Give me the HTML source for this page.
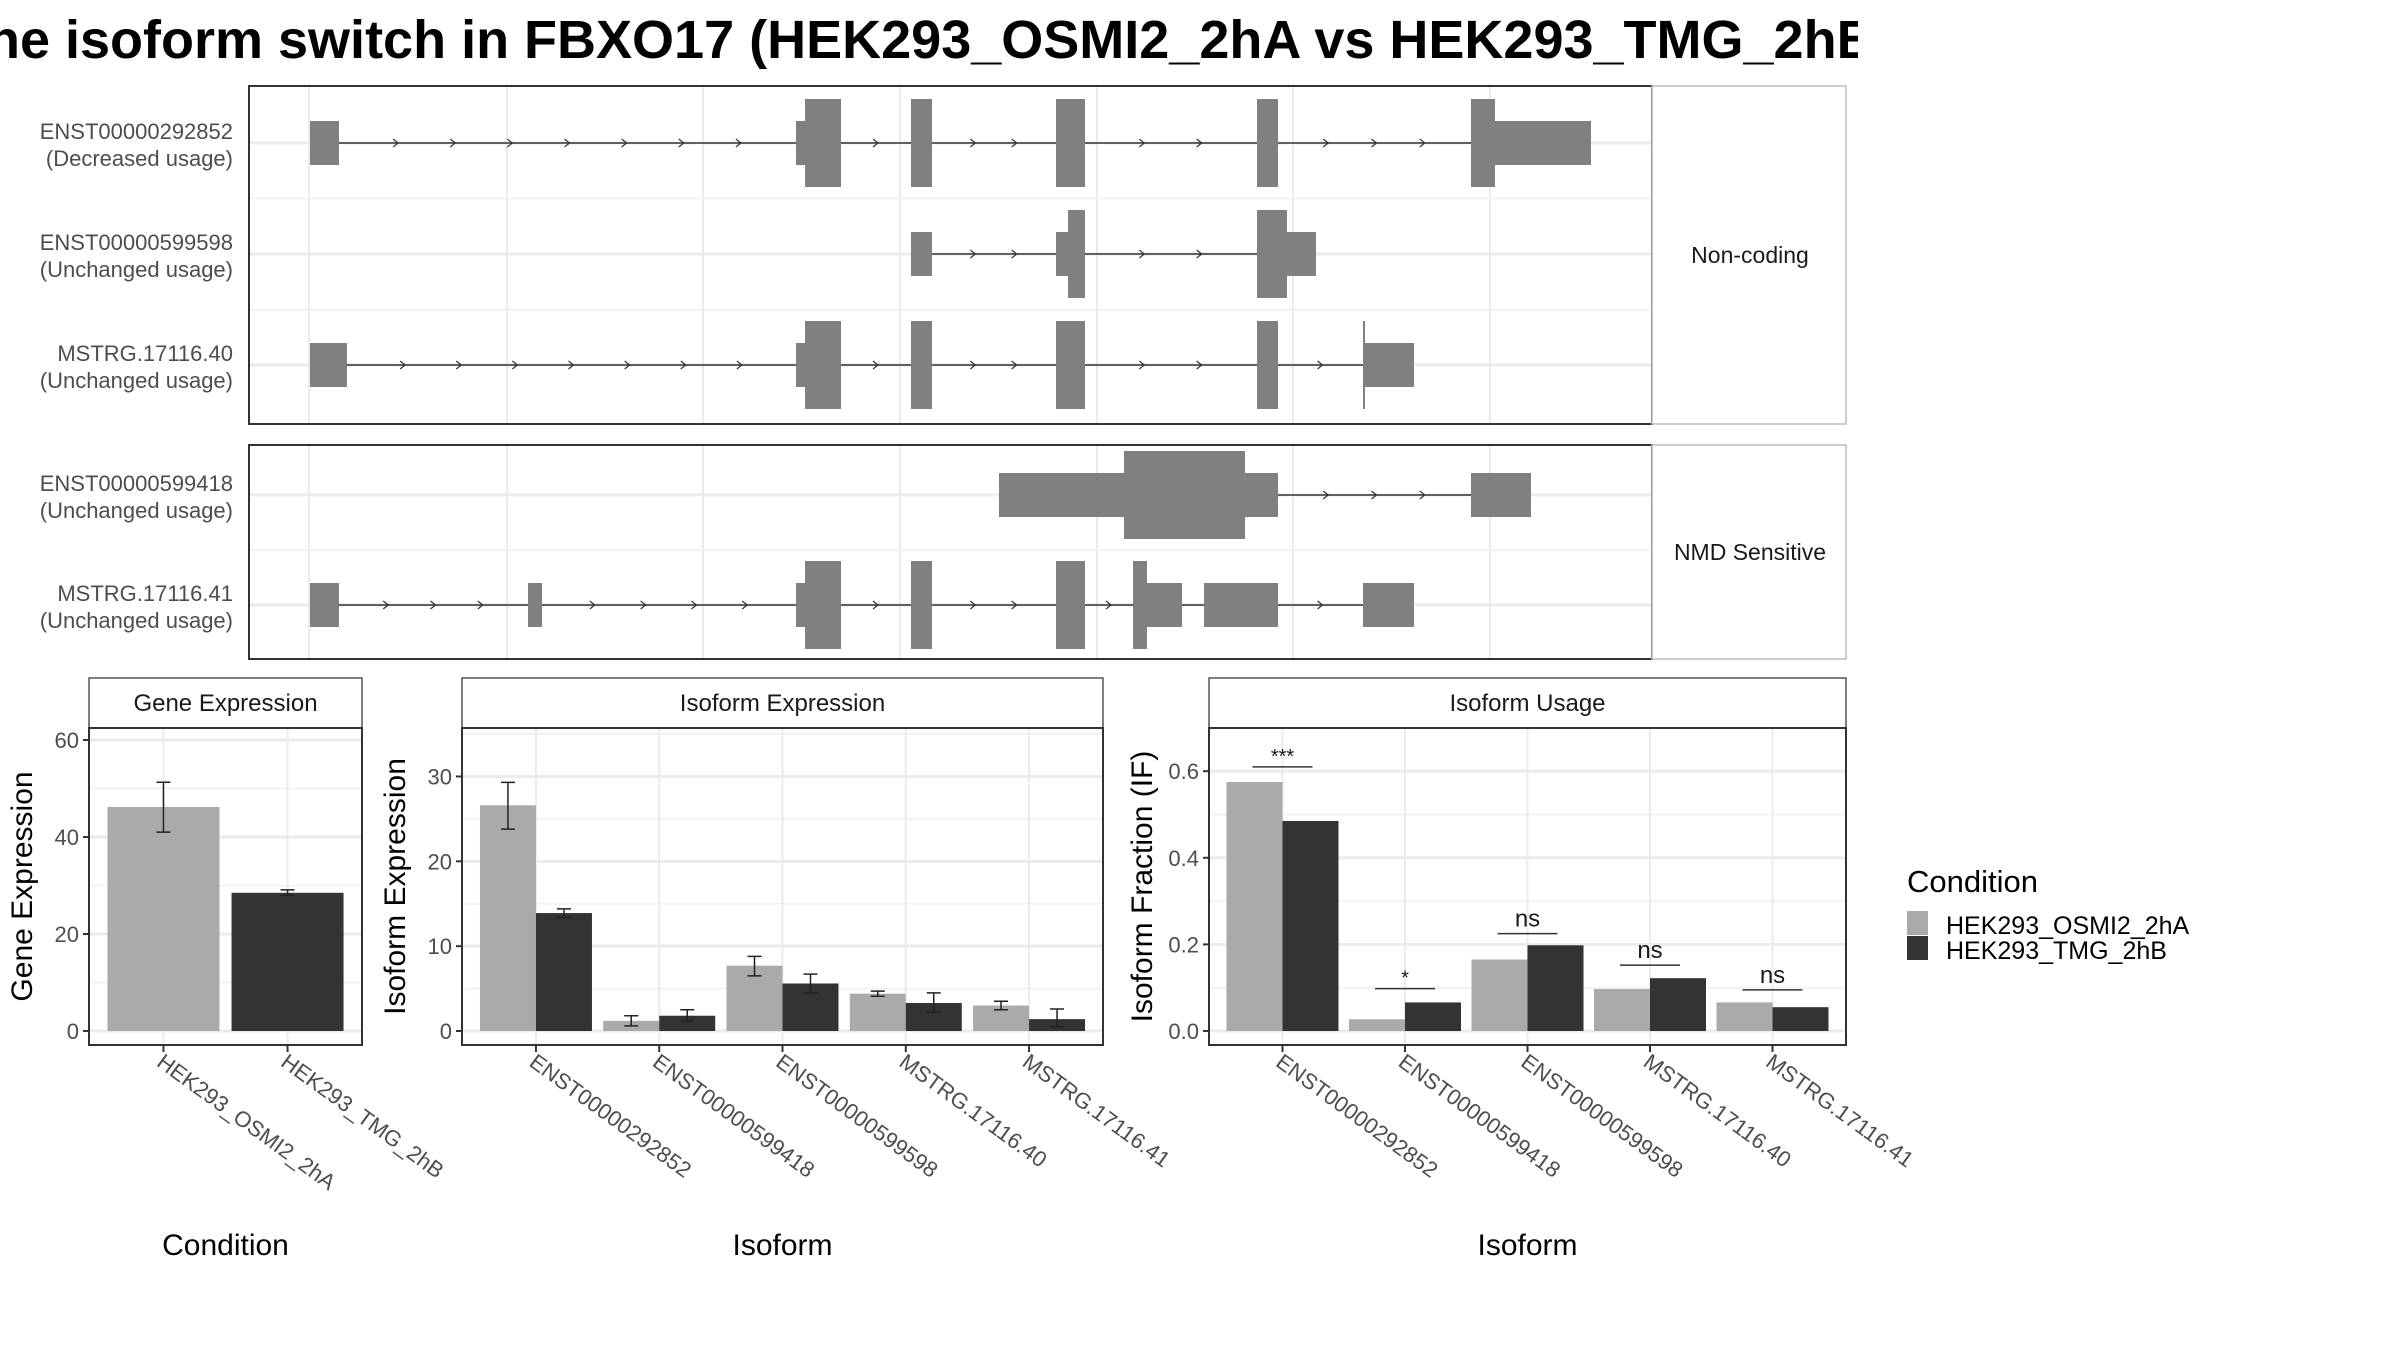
<!DOCTYPE html>
<html><head><meta charset="utf-8"><style>
html,body{margin:0;padding:0;background:#fff;}
svg{display:block;font-family:"Liberation Sans",Arial,sans-serif;}
</style></head><body>
<svg id="c" width="2400" height="1350" viewBox="0 0 2400 1350" xmlns="http://www.w3.org/2000/svg">
<defs><clipPath id="tclip"><rect x="0" y="0" width="1858" height="80"/></clipPath></defs>
<g clip-path="url(#tclip)"><text x="-46" y="58" font-size="54" font-weight="bold" fill="#000">The isoform switch in FBXO17 (HEK293_OSMI2_2hA vs HEK293_TMG_2hB)</text></g>
<g id="topG"></g>
<g id="bottomG"></g>
<g>
<text x="1907" y="892" font-size="31" fill="#000">Condition</text>
<rect x="1907" y="911" width="21" height="24" fill="#aaaaaa"/>
<rect x="1907" y="936" width="21" height="24" fill="#333333"/>
<text x="1946" y="934" font-size="25" fill="#000">HEK293_OSMI2_2hA</text>
<text x="1946" y="959" font-size="25" fill="#000">HEK293_TMG_2hB</text>
</g>
</svg>
<script>
const NS="http://www.w3.org/2000/svg";
function mk(parent,tag,attrs,text){const e=document.createElementNS(NS,tag);for(const k in attrs)e.setAttribute(k,attrs[k]);if(text!==undefined)e.textContent=text;parent.appendChild(e);return e;}

// ---------- transcript structure data ----------
const txNames=["ENST00000292852","ENST00000599598","MSTRG.17116.40","ENST00000599418","MSTRG.17116.41"];
const txUsage=["(Decreased usage)","(Unchanged usage)","(Unchanged usage)","(Unchanged usage)","(Unchanged usage)"];
const txPanel=[0,0,0,1,1];
// exons: [start,end,type] type 1 = CDS(tall), 0 = UTR(thin)
const txExons=[
 [[310,339,0],[796,805,0],[805,841,1],[911,932,1],[1056,1085,1],[1257,1278,1],[1471,1495,1],[1495,1591,0]],
 [[911,932,0],[1056,1068,0],[1068,1085,1],[1257,1287,1],[1287,1316,0]],
 [[310,347,0],[796,805,0],[805,841,1],[911,932,1],[1056,1085,1],[1257,1278,1],[1363,1365,1],[1363,1414,0]],
 [[999,1124,0],[1124,1245,1],[1245,1278,0],[1471,1531,0]],
 [[310,339,0],[528,542,0],[796,805,0],[805,841,1],[911,932,1],[1056,1085,1],[1133,1147,1],[1147,1182,0],[1204,1278,0],[1363,1414,0]]
];
const gx=v=>v;
const topG=document.getElementById('topG');
const panels=[{y0:86,y1:424,label:"Non-coding",rows:[143,254,365]},{y0:445,y1:659,label:"NMD Sensitive",rows:[495,605]}];
const gridX=[309,507,703,900,1097,1293,1490];
panels.forEach((p,pi)=>{
  const g=mk(topG,'g',{});
  
  
  mk(g,'rect',{x:249,y:p.y0,width:1403,height:p.y1-p.y0,fill:'#fff'});
  gridX.forEach(x=>mk(g,'line',{x1:x,x2:x,y1:p.y0,y2:p.y1,stroke:'#ebebeb','stroke-width':2}));
  p.rows.forEach(y=>mk(g,'line',{x1:249,x2:1652,y1:y,y2:y,stroke:'#ebebeb','stroke-width':3}));
  for(let i=0;i<p.rows.length-1;i++){const y=(p.rows[i]+p.rows[i+1])/2;mk(g,'line',{x1:249,x2:1652,y1:y,y2:y,stroke:'#f3f3f3','stroke-width':2});}
  mk(g,'rect',{x:249,y:p.y0,width:1403,height:p.y1-p.y0,fill:'none',stroke:'#333','stroke-width':2});
  const s=mk(g,'rect',{x:1652,y:p.y0,width:194,height:p.y1-p.y0,fill:'#fff',stroke:'#bbb','stroke-width':1.5});
  
  
  const st=mk(g,'text',{x:1750,y:(p.y0+p.y1)/2+8,'font-size':23,'text-anchor':'middle',fill:'#1a1a1a'},p.label);
  
  
});
txNames.forEach((n,i)=>{
  const p=panels[txPanel[i]];
  const idx=txPanel.slice(0,i).filter(v=>v===txPanel[i]).length;
  const cy=p.rows[idx];
  const g=mk(topG,'g',{});
  
  
  const ex=txExons[i];
  const s0=Math.min(...ex.map(e=>e[0])),e0=Math.max(...ex.map(e=>e[1]));
  mk(g,'line',{x1:gx(s0),x2:gx(e0),y1:cy,y2:cy,stroke:'#333','stroke-width':1.5});
  const sorted=ex.slice().sort((a,b)=>a[0]-b[0]);
  for(let k=0;k<sorted.length-1;k++){
    const a=sorted[k][1],b=sorted[k+1][0];
    if(b-a<30)continue;
    const nA=Math.max(1,Math.floor((b-a)/58));
    for(let j=1;j<=nA;j++){const x=a+(b-a)*j/(nA+1);mk(g,'path',{d:`M${x-3},${cy-4}L${x+2},${cy}L${x-3},${cy+4}`,fill:'none',stroke:'#333','stroke-width':1.2});}
  }
  ex.forEach(e=>{
    const h=e[2]?44:22;
    const r=mk(g,'rect',{x:gx(e[0]),y:cy-h,width:Math.max(2,gx(e[1])-gx(e[0])),height:2*h,fill:'#808080'});
    
    
  });
  const t1=mk(topG,'text',{x:233,y:cy-4,'font-size':22,'text-anchor':'end',fill:'#4d4d4d'},n);
  
  
  const t2=mk(topG,'text',{x:233,y:cy+23,'font-size':22,'text-anchor':'end',fill:'#4d4d4d'},txUsage[i]);
  
  
});

// ---------- bar chart data ----------
const condCategories=["HEK293_OSMI2_2hA","HEK293_TMG_2hB"];
const geneValues=[46.2,28.5];
const geneErrLow=[41.0,28.0];
const geneErrHigh=[51.3,29.1];
const geneTicks=[0,20,40,60];

const isoCategories=["ENST00000292852","ENST00000599418","ENST00000599598","MSTRG.17116.40","MSTRG.17116.41"];
const isoExpA=[26.6,1.2,7.7,4.4,3.0];
const isoExpB=[13.9,1.8,5.6,3.3,1.4];
const isoExpALow=[23.8,0.6,6.5,4.1,2.5];
const isoExpAHigh=[29.3,1.8,8.8,4.7,3.5];
const isoExpBLow=[13.4,1.2,4.5,2.2,0.5];
const isoExpBHigh=[14.4,2.5,6.7,4.5,2.6];
const isoExpTicks=[0,10,20,30];

const usageA=[0.575,0.027,0.165,0.097,0.066];
const usageB=[0.485,0.066,0.198,0.122,0.055];
const sigLabels=["***","*","ns","ns","ns"];
const sigLevels=[0.61,0.098,0.225,0.152,0.095];
const usageTicks=[0,0.2,0.4,0.6];
const usageTickLabels=["0.0","0.2","0.4","0.6"];

const bottomG=document.getElementById('bottomG');
const PT=728,PB=1045;
function panel(name,x0,x1,title,yMax,ticks,tickLabels,ytitle,xtitle,cats){
  const g=mk(bottomG,'g',{});
  
  
  const sy=v=>1031-v*(1031-740)/yMax;
  mk(g,'rect',{x:x0,y:678,width:x1-x0,height:50,fill:'#fff',stroke:'#555','stroke-width':1.5});
  const st=mk(g,'text',{x:(x0+x1)/2,y:711,'font-size':24,'text-anchor':'middle',fill:'#1a1a1a'},title);
  
  
  mk(g,'rect',{x:x0,y:PT,width:x1-x0,height:PB-PT,fill:'#fff'});
  const n=cats.length;
  const cx=i=>x0+(x1-x0)/2+(i-(n-1)/2)*(x1-x0)/(n+0.2);
  for(let k=0;k<ticks.length;k++){
    const mv=ticks[k]+(ticks[1]-ticks[0])/2;
    if(sy(mv)>PT) mk(g,'line',{x1:x0,x2:x1,y1:sy(mv),y2:sy(mv),stroke:'#f2f2f2','stroke-width':2});
  }
  ticks.forEach((t,k)=>{
    mk(g,'line',{x1:x0,x2:x1,y1:sy(t),y2:sy(t),stroke:'#ebebeb','stroke-width':3});
    mk(g,'line',{x1:x0-6,x2:x0,y1:sy(t),y2:sy(t),stroke:'#333','stroke-width':2});
    const tl=mk(g,'text',{x:x0-10,y:sy(t)+8,'font-size':22,'text-anchor':'end',fill:'#4d4d4d'},tickLabels[k]);
    
    
  });
  cats.forEach((c,i)=>{
    mk(g,'line',{x1:cx(i),x2:cx(i),y1:PT,y2:PB,stroke:'#ebebeb','stroke-width':2});
    mk(g,'line',{x1:cx(i),x2:cx(i),y1:PB,y2:PB+7,stroke:'#333','stroke-width':2});
    const tx=cx(i)-8,ty=PB+20;
    const tl=mk(g,'text',{x:tx,y:ty,'font-size':22,fill:'#4d4d4d',transform:`rotate(36 ${tx} ${ty})`},c);
    
    
  });
  const yt=mk(g,'text',{x:0,y:0,'font-size':30,'text-anchor':'middle',fill:'#000',transform:`translate(${x0-57},${(PT+PB)/2}) rotate(-90)`},ytitle);
  
  
  const xt=mk(g,'text',{x:(x0+x1)/2,y:1255,'font-size':30,'text-anchor':'middle',fill:'#000'},xtitle);
  
  
  return {g,sy,cx};
}
function border(g,x0,x1){mk(g,'rect',{x:x0,y:PT,width:x1-x0,height:PB-PT,fill:'none',stroke:'#333','stroke-width':2});}
function err(g,x,lo,hi,sy){
  const e=mk(g,'path',{d:`M${x-7},${sy(hi)}H${x+7}M${x},${sy(hi)}V${sy(lo)}M${x-7},${sy(lo)}H${x+7}`,stroke:'#222','stroke-width':1.5,fill:'none'});
  
  
}
(function(){
  const x0=89,x1=362;
  const P=panel('gene-expression-panel',x0,x1,'Gene Expression',60,geneTicks,geneTicks.map(String),'Gene Expression','Condition',condCategories);
  const cols=['#aaaaaa','#333333'];
  geneValues.forEach((v,i)=>{
    const w=112;
    const b=mk(P.g,'rect',{x:P.cx(i)-w/2,y:P.sy(v),width:w,height:P.sy(0)-P.sy(v),fill:cols[i]});
    
    
    err(P.g,P.cx(i),geneErrLow[i],geneErrHigh[i],P.sy);
  });
  border(P.g,x0,x1);
})();
(function(){
  const x0=462,x1=1103;
  const P=panel('isoform-expression-panel',x0,x1,'Isoform Expression',34.3,isoExpTicks,isoExpTicks.map(String),'Isoform Expression','Isoform',isoCategories);
  const w=56;
  isoCategories.forEach((c,i)=>{
    const a=mk(P.g,'rect',{x:P.cx(i)-w,y:P.sy(isoExpA[i]),width:w,height:P.sy(0)-P.sy(isoExpA[i]),fill:'#aaaaaa'});
    
    
    const b=mk(P.g,'rect',{x:P.cx(i),y:P.sy(isoExpB[i]),width:w,height:P.sy(0)-P.sy(isoExpB[i]),fill:'#333333'});
    
    
    err(P.g,P.cx(i)-w/2,isoExpALow[i],isoExpAHigh[i],P.sy);
    err(P.g,P.cx(i)+w/2,isoExpBLow[i],isoExpBHigh[i],P.sy);
  });
  border(P.g,x0,x1);
})();
(function(){
  const x0=1209,x1=1846;
  const P=panel('isoform-usage-panel',x0,x1,'Isoform Usage',0.672,usageTicks,usageTickLabels,'Isoform Fraction (IF)','Isoform',isoCategories);
  const w=56;
  isoCategories.forEach((c,i)=>{
    const a=mk(P.g,'rect',{x:P.cx(i)-w,y:P.sy(usageA[i]),width:w,height:P.sy(0)-P.sy(usageA[i]),fill:'#aaaaaa'});
    
    
    const b=mk(P.g,'rect',{x:P.cx(i),y:P.sy(usageB[i]),width:w,height:P.sy(0)-P.sy(usageB[i]),fill:'#333333'});
    
    
    const ly=P.sy(sigLevels[i]);
    const l=mk(P.g,'line',{x1:P.cx(i)-30,x2:P.cx(i)+30,y1:ly,y2:ly,stroke:'#333','stroke-width':1.5});
    
    
    const t=mk(P.g,'text',{x:P.cx(i),y:ly-(sigLabels[i]==='ns'?7:4),'font-size':sigLabels[i]==='ns'?24:20,'text-anchor':'middle',fill:'#1a1a1a'},sigLabels[i]);
    
    
  });
  border(P.g,x0,x1);
})();
</script>
</body></html>
